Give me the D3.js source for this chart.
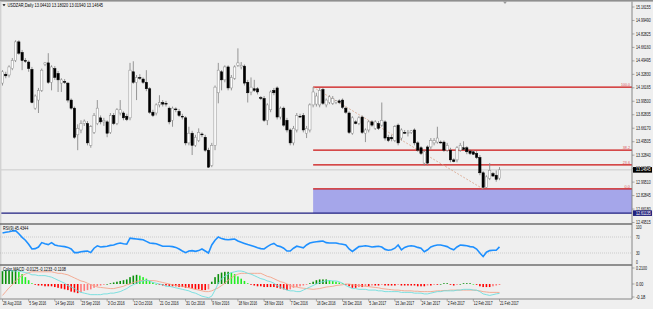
<!DOCTYPE html>
<html><head><meta charset="utf-8">
<script src="https://cdn.jsdelivr.net/npm/d3@7"></script>
<style>
html,body{margin:0;padding:0;background:#efefef;}
svg{display:block;font-family:"Liberation Sans",Arial,sans-serif;}
</style></head><body>
<svg id="chart" width="653" height="309"></svg>
<script>
// USDZAR daily candles: [open, high, low, close]
const ohlc = [
[14.22,14.38,14.19,14.36],[14.33,14.36,14.28,14.31],[14.32,14.44,14.29,14.42],[14.40,14.53,14.38,14.50],
[14.50,14.75,14.48,14.73],[14.73,14.75,14.57,14.59],[14.60,14.63,14.38,14.50],[14.50,14.53,14.47,14.49],
[14.48,14.50,14.36,14.40],[14.39,14.42,13.97,13.98],[13.91,14.08,13.89,14.06],[14.01,14.16,13.85,14.13],
[14.13,14.40,14.11,14.38],[14.45,14.48,14.43,14.47],[14.47,14.59,14.21,14.23],[14.23,14.44,14.13,14.42],
[14.40,14.43,14.26,14.29],[14.34,14.37,14.11,14.26],[14.22,14.28,14.11,14.26],[14.24,14.27,14.21,14.23],
[14.22,14.23,13.98,14.01],[14.01,14.03,13.89,13.91],[13.91,13.93,13.53,13.55],[13.58,13.71,13.39,13.66],
[13.64,13.76,13.60,13.72],[13.72,13.77,13.69,13.75],[13.72,13.75,13.45,13.48],[13.45,13.70,13.42,13.68],
[13.61,13.85,13.59,13.82],[13.72,14.01,13.70,13.91],[13.79,13.82,13.71,13.74],[13.74,13.79,13.69,13.76],
[13.74,13.76,13.55,13.60],[13.61,13.85,13.59,13.82],[13.82,13.85,13.70,13.72],[13.72,13.91,13.70,13.89],
[13.85,14.01,13.82,13.89],[13.85,13.87,13.76,13.79],[13.81,13.84,13.75,13.77],[13.79,14.47,13.76,14.38],
[14.36,14.49,14.21,14.23],[14.23,14.32,14.01,14.29],[14.29,14.33,14.26,14.28],[14.27,14.29,14.21,14.23],
[14.23,14.38,14.12,14.15],[14.15,14.17,13.84,13.86],[13.86,13.89,13.80,13.82],[13.85,13.97,13.82,13.95],
[13.95,14.07,13.92,13.98],[13.98,14.01,13.93,13.96],[13.97,14.00,13.93,13.96],[13.91,13.93,13.71,13.74],
[13.76,13.93,13.68,13.91],[13.90,13.92,13.86,13.89],[13.87,13.90,13.80,13.82],[13.81,13.84,13.77,13.80],
[13.79,13.81,13.45,13.48],[13.48,13.68,13.45,13.60],[13.60,13.63,13.33,13.45],[13.45,13.58,13.43,13.55],
[13.51,13.66,13.49,13.61],[13.59,13.61,13.55,13.58],[13.55,13.58,13.37,13.39],[13.39,13.42,13.17,13.18],
[13.20,13.48,13.18,13.45],[13.45,14.19,13.39,14.17],[14.10,14.47,13.97,14.38],[14.36,14.38,14.13,14.26],
[14.26,14.44,14.23,14.42],[14.42,14.44,14.13,14.16],[14.16,14.32,14.13,14.29],[14.28,14.44,14.26,14.42],
[14.44,14.65,14.42,14.47],[14.42,14.48,14.39,14.44],[14.43,14.45,14.19,14.22],[14.23,14.26,13.98,14.10],
[14.11,14.29,14.07,14.17],[14.15,14.26,14.11,14.13],[14.15,14.17,14.08,14.11],[14.04,14.06,14.01,14.03],
[14.03,14.06,13.74,13.76],[13.76,13.97,13.70,13.95],[13.89,14.13,13.86,14.11],[14.13,14.16,14.07,14.10],
[14.16,14.18,13.77,13.80],[13.80,13.93,13.77,13.91],[13.91,13.93,13.68,13.70],[13.76,13.79,13.61,13.64],
[13.64,13.66,13.45,13.48],[13.48,13.69,13.45,13.66],[13.64,13.85,13.61,13.82],[13.81,13.84,13.79,13.80],
[13.82,13.85,13.61,13.64],[13.60,13.69,13.54,13.66],[13.64,13.97,13.61,13.95],[13.95,14.17,13.92,14.11],
[13.96,14.10,13.93,14.06],[13.95,14.16,13.92,14.13],[14.14,14.16,13.95,13.97],[13.95,14.03,13.92,14.01],
[13.98,14.07,13.96,14.05],[13.97,14.06,13.95,14.03],[13.98,14.01,13.96,14.00],[14.00,14.02,13.96,13.98],
[14.01,14.03,13.90,13.92],[13.91,13.93,13.84,13.86],[13.85,13.87,13.59,13.61],[13.60,13.81,13.58,13.79],
[13.74,13.76,13.71,13.72],[13.72,13.81,13.70,13.79],[13.80,13.82,13.59,13.61],[13.60,13.66,13.49,13.64],
[13.64,13.76,13.61,13.74],[13.74,13.76,13.68,13.70],[13.66,13.76,13.64,13.74],[13.72,13.75,13.64,13.66],
[13.70,13.98,13.68,13.76],[13.74,13.76,13.51,13.54],[13.55,13.58,13.49,13.51],[13.55,13.58,13.50,13.53],
[13.51,13.70,13.49,13.68],[13.70,13.72,13.45,13.48],[13.54,13.66,13.51,13.64],[13.61,13.64,13.59,13.60],
[13.60,13.64,13.56,13.61],[13.61,13.64,13.59,13.63],[13.64,13.66,13.45,13.48],[13.48,13.50,13.37,13.39],
[13.42,13.44,13.33,13.35],[13.23,13.39,13.20,13.37],[13.43,13.45,13.20,13.23],[13.43,13.54,13.40,13.51],
[13.48,13.54,13.45,13.51],[13.49,13.68,13.47,13.54],[13.49,13.51,13.47,13.48],[13.49,13.51,13.37,13.39],
[13.39,13.48,13.37,13.45],[13.39,13.42,13.24,13.27],[13.27,13.29,13.24,13.25],[13.27,13.44,13.24,13.42],
[13.39,13.48,13.37,13.45],[13.42,13.50,13.39,13.40],[13.42,13.44,13.34,13.37],[13.38,13.40,13.33,13.35],
[13.37,13.39,13.33,13.34],[13.35,13.38,13.28,13.30],[13.30,13.33,13.08,13.11],[13.11,13.13,12.91,12.93],
[12.93,13.08,12.92,13.06],[13.04,13.23,13.02,13.14],[13.10,13.12,13.06,13.07],[13.08,13.14,13.00,13.03],
[13.0441,13.1802,13.0194,13.14645]
];

// RSI(9)
const rsi = [
80,82,83,85,86,78,69,62,52,40,41,45,56,53,51,56,50,48,47,46,44,40,31,31,33,34,35,31,42,48,
45,46,47,49,50,53,55,53,52,67,66,65,64,63,59,55,54,53,50,47,47,47,46,44,40,35,31,35,36,34,
36,40,35,30,50,62,70,66,64,63,64,65,60,57,54,51,49,46,43,41,40,46,51,54,48,46,42,35,35,42,
47,45,43,50,55,57,58,59,60,56,55,55,55,53,52,50,40,34,40,46,47,48,47,45,46,47,45,39,37,38,
42,50,38,44,47,48,47,44,42,33,38,45,48,50,50,48,46,41,38,45,50,49,48,46,45,40,30,21,32,36,
37,37,45.4344
];

// MACD histogram, main (cyan) and signal (salmon)
const macdHist = [
0.17,0.18,0.18,0.18,0.18,0.16,0.13,0.09,0.05,0.01,-0.01,-0.02,-0.02,-0.03,-0.03,-0.03,-0.04,-0.05,-0.06,-0.07,
-0.08,-0.10,-0.11,-0.12,-0.11,-0.09,-0.08,-0.07,-0.05,-0.03,-0.02,-0.01,0.00,0.01,0.02,0.03,0.04,0.05,0.06,0.09,
0.11,0.12,0.11,0.09,0.07,0.04,0.02,0.00,-0.01,-0.02,-0.02,-0.03,-0.03,-0.03,-0.04,-0.04,-0.05,-0.05,-0.06,-0.07,
-0.07,-0.08,-0.08,-0.07,0.03,0.09,0.13,0.15,0.16,0.16,0.15,0.13,0.10,0.07,0.04,0.01,-0.01,-0.02,-0.03,-0.03,
-0.04,-0.04,-0.04,-0.04,-0.05,-0.06,-0.07,-0.08,-0.07,-0.05,-0.04,-0.03,-0.02,-0.01,0.01,0.03,0.05,0.06,0.06,0.06,
0.05,0.04,0.03,0.02,0.01,-0.01,-0.03,-0.05,-0.05,-0.04,-0.04,-0.03,-0.03,-0.02,-0.02,-0.02,-0.01,-0.02,-0.02,-0.02,
-0.02,-0.01,-0.02,-0.02,-0.02,-0.02,-0.02,-0.03,-0.03,-0.03,-0.02,-0.02,-0.01,-0.01,0.00,0.01,0.01,-0.01,-0.02,-0.01,
0.00,0.01,0.01,0.01,0.00,-0.01,-0.03,-0.04,-0.04,-0.04,-0.03,-0.02,-0.0125
];
const macdMain = [
0.17,0.18,0.18,0.17,0.17,0.17,0.16,0.15,0.14,0.12,0.12,0.11,0.11,0.11,0.10,0.09,0.07,0.05,0.03,0.01,
-0.02,-0.04,-0.06,-0.09,-0.11,-0.12,-0.13,-0.14,-0.14,-0.14,-0.14,-0.13,-0.13,-0.12,-0.12,-0.11,-0.10,-0.08,-0.06,-0.03,
-0.01,0.01,0.03,0.04,0.05,0.04,0.02,0.01,0.00,-0.01,-0.03,-0.03,-0.04,-0.05,-0.06,-0.07,-0.08,-0.09,-0.11,-0.12,
-0.14,-0.16,-0.17,-0.18,-0.16,-0.08,0.01,0.07,0.10,0.13,0.15,0.16,0.17,0.17,0.16,0.14,0.13,0.11,0.09,0.07,
0.06,0.04,0.03,0.01,-0.02,-0.04,-0.06,-0.08,-0.09,-0.09,-0.10,-0.10,-0.08,-0.06,-0.04,-0.02,0.00,0.02,0.03,0.04,
0.045,0.04,0.04,0.03,0.01,-0.02,-0.04,-0.06,-0.06,-0.07,-0.07,-0.07,-0.08,-0.08,-0.08,-0.09,-0.09,-0.10,-0.10,-0.10,
-0.10,-0.10,-0.11,-0.11,-0.11,-0.11,-0.12,-0.12,-0.12,-0.13,-0.13,-0.12,-0.11,-0.10,-0.10,-0.09,-0.09,-0.09,-0.09,-0.08,
-0.08,-0.07,-0.07,-0.07,-0.08,-0.08,-0.10,-0.13,-0.14,-0.15,-0.14,-0.13,-0.1233
];
const macdSignal = [
-0.15,-0.10,-0.05,-0.01,0.04,0.08,0.11,0.13,0.15,0.16,0.16,0.16,0.16,0.16,0.16,0.16,0.15,0.14,0.14,0.13,
0.12,0.10,0.08,0.06,0.04,0.03,0.01,-0.01,-0.02,-0.04,-0.045,-0.05,-0.055,-0.06,-0.06,-0.05,-0.04,-0.03,-0.01,0.00,
0.02,0.03,0.045,0.045,0.045,0.045,0.045,0.04,0.03,0.02,0.01,0.00,-0.01,-0.02,-0.025,-0.03,-0.04,-0.05,-0.06,-0.07,
-0.08,-0.09,-0.10,-0.10,-0.09,-0.07,-0.05,-0.02,0.01,0.05,0.08,0.11,0.13,0.14,0.14,0.14,0.14,0.14,0.14,0.14,
0.12,0.10,0.09,0.07,0.05,0.03,0.02,0.00,-0.02,-0.035,-0.04,-0.05,-0.055,-0.06,-0.065,-0.07,-0.065,-0.06,-0.05,-0.04,
-0.035,-0.03,-0.02,-0.015,-0.01,0.00,0.00,-0.01,-0.015,-0.02,-0.025,-0.03,-0.035,-0.04,-0.045,-0.05,-0.06,-0.065,-0.07,-0.075,
-0.08,-0.08,-0.085,-0.09,-0.09,-0.09,-0.095,-0.095,-0.10,-0.10,-0.10,-0.10,-0.095,-0.09,-0.09,-0.085,-0.085,-0.08,-0.08,-0.08,
-0.08,-0.08,-0.08,-0.08,-0.08,-0.085,-0.09,-0.10,-0.105,-0.11,-0.11,-0.11,-0.1108
];

// time axis labels, one every 8 bars
const dateLabels = ["26 Aug 2016","5 Sep 2016","14 Sep 2016","23 Sep 2016","3 Oct 2016","12 Oct 2016",
  "21 Oct 2016","31 Oct 2016","9 Nov 2016","18 Nov 2016","28 Nov 2016","7 Dec 2016","16 Dec 2016",
  "26 Dec 2016","5 Jan 2017","15 Jan 2017","24 Jan 2017","2 Feb 2017","12 Feb 2017","21 Feb 2017"];
const priceTicks = ["15.16155","14.99490","14.82825","14.66160","14.49495","14.32830","14.16165","13.99500",
  "13.82835","13.66170","13.49505","13.32840","13.16175","12.99510","12.82845","12.66180","12.49515"];
const rsiTicks = [100, 70, 30, 0];
const macdTicks = ["0.2100", "0.00", "-0.18"];
const fibLevels = ["0.0", "23.6", "38.2", "100.0"];
const fibHigh = 14.17, fibLow = 12.91, fibHighBar = 95, fibLowBar = 147;
const bluePrice = 12.611, blueLabel = "12.61135";
const lastPrice = "13.14645";

const W = 653, axisX = 632;
const svg = d3.select("#chart");

// small text squeezed sideways, like the terminal's tiny font
function label(g, s, xx, yy, perChar, opts = {}) {
  const t = g.append("text")
    .attr("font-size", opts.size || 4.7).attr("fill", opts.fill || "#111")
    .text(s);
  const natural = t.node().getComputedTextLength() || 1;
  const target = s.length * perChar;
  const sx = target / natural;
  const x0 = opts.anchor === "end" ? xx - target : xx;
  t.attr("transform", `translate(${x0},${yy}) scale(${sx},1)`);
  return t;
}

// scales
const x = d3.scaleLinear().domain([0, ohlc.length - 1]).range([2.5, 499.5]);
const y = d3.scaleLinear().domain([+priceTicks[0], +priceTicks[priceTicks.length - 1]]).range([7, 222.5]);
const yR = d3.scaleLinear().domain([0, 100]).range([265, 225]);
const yM = d3.scaleLinear().domain([0, 0.21]).range([284, 268]);

svg.append("rect").attr("width", W).attr("height", 309).attr("fill", "#efefef");

// blue zone below the fib
svg.append("rect")
  .attr("x", x(fibHighBar)).attr("y", y(fibLow))
  .attr("width", axisX - x(fibHighBar)).attr("height", y(bluePrice) - y(fibLow))
  .attr("fill", "#a5a6ea");

// current price line
svg.append("line").attr("x1", 0).attr("x2", axisX)
  .attr("y1", y(+lastPrice)).attr("y2", y(+lastPrice))
  .attr("stroke", "#c4c4c4").attr("stroke-width", 0.8);

// fib levels
const fibPrice = l => fibLow + (fibHigh - fibLow) * (+l) / 100;
const fib = svg.append("g");
fib.selectAll("line").data(fibLevels).join("line")
  .attr("x1", x(fibHighBar)).attr("x2", axisX)
  .attr("y1", d => y(fibPrice(d))).attr("y2", d => y(fibPrice(d)))
  .attr("stroke", "#cc1111").attr("stroke-width", 1.3);
fibLevels.forEach(d => label(fib, d, axisX - 2, y(fibPrice(d)) - 1.3, 1.8,
  { anchor: "end", fill: "#dd5555", size: 4.2 }));
svg.append("line")
  .attr("x1", x(fibHighBar)).attr("y1", y(fibHigh))
  .attr("x2", x(fibLowBar)).attr("y2", y(fibLow))
  .attr("stroke", "#d9a58c").attr("stroke-width", 0.8).attr("stroke-dasharray", "2,1.5");

// blue horizontal line
svg.append("line").attr("x1", 0).attr("x2", axisX)
  .attr("y1", y(bluePrice)).attr("y2", y(bluePrice))
  .attr("stroke", "#1f1f80").attr("stroke-width", 1.4);

// candles
const candles = svg.append("g").selectAll("g").data(ohlc).join("g");
candles.append("line")
  .attr("x1", (d, i) => x(i)).attr("x2", (d, i) => x(i))
  .attr("y1", d => y(d[1])).attr("y2", d => y(d[2]))
  .attr("stroke", "#8a8a8a").attr("stroke-width", 0.9);
candles.append("rect")
  .attr("x", (d, i) => x(i) - 1.15).attr("width", 2.3)
  .attr("y", d => y(Math.max(d[0], d[3])))
  .attr("height", d => Math.max(0.7, Math.abs(y(d[0]) - y(d[3]))))
  .attr("fill", d => d[3] >= d[0] ? "#ffffff" : "#000000")
  .attr("stroke", d => d[3] >= d[0] ? "#8a8a8a" : "#000000")
  .attr("stroke-width", 0.5);

// header
svg.append("rect").attr("width", W).attr("height", 1.6).attr("fill", "#8f8f8f");
svg.append("rect").attr("y", 1.6).attr("width", 1.4).attr("height", 297).attr("fill", "#d2d2d2");
svg.append("path").attr("d", "M2.5,4.3 L5.5,4.3 L4,6.3 Z").attr("fill", "#000");
label(svg, "USDZAR,Daily  13.04410 13.18020 13.01940 13.14645", 7.5, 6.9, 1.95, { fill: "#000", size: 4.8 });
svg.append("path").attr("d", "M503,1.6 L507,1.6 L505,4 Z").attr("fill", "#9a9a9a");

// RSI pane
const rsiG = svg.append("g");
rsiG.selectAll("line.lvl").data([70, 30]).join("line").attr("class", "lvl")
  .attr("x1", 0).attr("x2", axisX).attr("y1", d => yR(d)).attr("y2", d => yR(d))
  .attr("stroke", "#b4b4b4").attr("stroke-width", 0.6).attr("stroke-dasharray", "1,1");
rsiG.append("path").datum(rsi)
  .attr("d", d3.line().x((d, i) => x(i)).y(d => yR(d)))
  .attr("fill", "none").attr("stroke", "#1e90ff").attr("stroke-width", 1.6);
label(svg, "RSI(9) 45.4344", 3, 229.9, 1.8, { fill: "#000" });

// MACD pane
const mG = svg.append("g");
mG.selectAll("rect").data(macdHist).join("rect")
  .attr("x", (d, i) => x(i) - 0.8).attr("width", 1.6)
  .attr("y", d => Math.min(yM(0), yM(d)))
  .attr("height", d => Math.max(0.6, Math.abs(yM(d) - yM(0))))
  .attr("fill", (d, i) => {
    const prev = i > 0 ? macdHist[i - 1] : d;
    if (d >= 0) return d >= prev ? "#0a8f0a" : "#22ee22";
    return d <= prev ? "#ff0000" : "#ff7a7a";
  });
mG.append("path").datum(macdSignal)
  .attr("d", d3.line().x((d, i) => x(i)).y(d => yM(d)))
  .attr("fill", "none").attr("stroke", "#f4a48a").attr("stroke-width", 0.9);
mG.append("path").datum(macdMain)
  .attr("d", d3.line().x((d, i) => x(i)).y(d => yM(d)))
  .attr("fill", "none").attr("stroke", "#6fdede").attr("stroke-width", 0.9);
label(svg, "Color MACD -0.0125 -0.1233 -0.1108", 3, 270.9, 1.85, { fill: "#000" });

// pane separators and price axis line
svg.selectAll("line.sep").data([224, 265]).join("line").attr("class", "sep")
  .attr("x1", 0).attr("x2", axisX).attr("y1", d => d).attr("y2", d => d)
  .attr("stroke", "#6f6f6f").attr("stroke-width", 1.4);
svg.append("line").attr("x1", 0).attr("x2", axisX).attr("y1", 299).attr("y2", 299)
  .attr("stroke", "#7a7a7a").attr("stroke-width", 0.9);
svg.append("line").attr("x1", axisX).attr("x2", axisX).attr("y1", 1.6).attr("y2", 299)
  .attr("stroke", "#7a7a7a").attr("stroke-width", 0.9);

// price axis
const pAx = svg.append("g");
priceTicks.forEach(t => {
  pAx.append("line").attr("x1", axisX).attr("x2", axisX + 2.5).attr("y1", y(+t)).attr("y2", y(+t))
    .attr("stroke", "#7a7a7a").attr("stroke-width", 0.6);
  label(pAx, t, axisX + 4, y(+t) + 1.6, 1.85);
});
// current price and blue line badges
[[+lastPrice, lastPrice, "#000000"], [bluePrice, blueLabel, "#23237e"]].forEach(([v, s, c]) => {
  svg.append("rect").attr("x", axisX + 1).attr("y", y(v) - 2.8).attr("width", W - axisX - 2).attr("height", 5.6)
    .attr("fill", c);
  label(svg, s, axisX + 4, y(v) + 1.6, 1.85, { fill: "#fff" });
});

// RSI and MACD axes
rsiTicks.forEach(t => {
  const yy = Math.min(262.5, Math.max(227, yR(t)));
  label(svg, String(t), axisX + 4, yy + 1.6, 1.85);
});
macdTicks.forEach(t => {
  const yy = Math.min(297, Math.max(268, yM(+t)));
  svg.append("line").attr("x1", axisX).attr("x2", axisX + 2.5).attr("y1", yy).attr("y2", yy)
    .attr("stroke", "#7a7a7a").attr("stroke-width", 0.6);
  label(svg, t, axisX + 4, yy + 1.6, 1.85);
});

// time axis
dateLabels.forEach((s, k) => {
  const xx = x(k * 8);
  svg.append("line").attr("x1", xx).attr("x2", xx).attr("y1", 299).attr("y2", 301.5)
    .attr("stroke", "#7a7a7a").attr("stroke-width", 0.6);
  label(svg, s, xx + 0.5, 305.4, 1.7);
});
</script>
</body></html>
